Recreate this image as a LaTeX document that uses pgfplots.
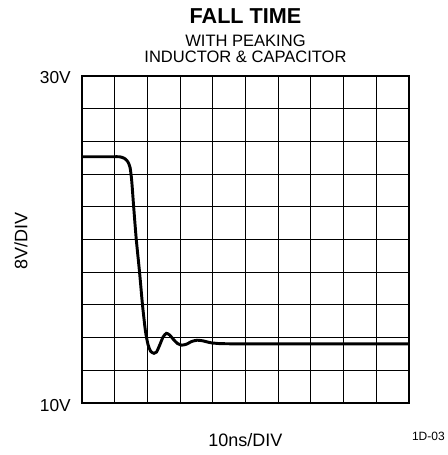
\documentclass[border=0pt]{standalone}
\usepackage{fontspec}
\setmainfont{Liberation Sans}
\usepackage{pgfplots}
\pgfplotsset{compat=1.18}
\usetikzlibrary{calc}
\begin{document}
\begin{tikzpicture}
\begin{axis}[name=ax, at={(0,0)}, anchor=south west,
  scale only axis, width=245.25pt, height=245.25pt,
  xmin=0, xmax=10, ymin=0, ymax=10,
  xtick={0,...,10}, ytick={0,...,10},
  xticklabels={}, yticklabels={},
  major tick length=0pt,
  grid=major,
  grid style={black, line width=0.7pt},
  axis line style={line width=1.6pt},
  clip=true]
\addplot[black, line width=2.2pt, smooth, tension=0.4] coordinates {
(0,7.53) (0.9,7.53) (1.15,7.53) (1.3,7.48) (1.4,7.38) (1.47,7.2)
(1.52,6.8) (1.58,6.0) (1.66,5.0) (1.76,4.0) (1.85,3.0) (1.94,2.2)
(2.02,1.78) (2.1,1.58) (2.2,1.52) (2.28,1.56) (2.38,1.78) (2.48,2.02)
(2.58,2.13) (2.68,2.08) (2.8,1.94) (2.92,1.82) (3.05,1.77) (3.2,1.8)
(3.35,1.88) (3.52,1.92) (3.7,1.9) (3.9,1.85) (4.15,1.82) (4.6,1.81)
(6,1.81) (8,1.81) (10,1.81)};
\end{axis}
\path[use as bounding box] ($(ax.south west)+(-61.5pt,-39pt)$) rectangle ($(ax.south west)+(274.5pt,302.25pt)$);
\node[anchor=base, font=\fontsize{16.2}{18}\selectfont\bfseries, inner sep=0pt] at ($(ax.south west)+(122.6pt,284.8pt)$) {FALL TIME};
\node[anchor=base, font=\fontsize{12.4}{14}\selectfont, inner sep=0pt] at ($(ax.south west)+(122.6pt,267.2pt)$) {WITH PEAKING};
\node[anchor=base, font=\fontsize{12.4}{14}\selectfont, inner sep=0pt] at ($(ax.south west)+(122.6pt,255.2pt)$) {INDUCTOR \& CAPACITOR};
\node[anchor=base east, font=\fontsize{13}{14}\selectfont, inner sep=0pt] at ($(ax.south west)+(-8.25pt,240pt)$) {30V};
\node[anchor=base east, font=\fontsize{13}{14}\selectfont, inner sep=0pt] at ($(ax.south west)+(-8.25pt,-6.5pt)$) {10V};
\node[anchor=base, rotate=90, font=\fontsize{13.5}{15}\selectfont, inner sep=0pt] at ($(ax.south west)+(-41pt,121.5pt)$) {8V/DIV};
\node[anchor=base, font=\fontsize{13.5}{15}\selectfont, inner sep=0pt] at ($(ax.south west)+(122.6pt,-32.25pt)$) {10ns/DIV};
\node[anchor=base east, font=\fontsize{9}{10}\selectfont, inner sep=0pt] at ($(ax.south west)+(272.25pt,-27.75pt)$) {1D-03};
\end{tikzpicture}
\end{document}
